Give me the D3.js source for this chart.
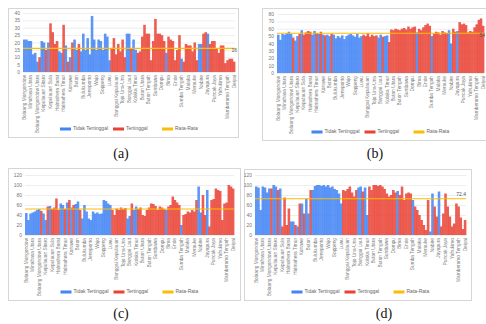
<!DOCTYPE html>
<html>
<head>
<meta charset="utf-8">
<script src="https://d3js.org/d3.v7.min.js"></script>
<style>
  body { margin: 0; background: #fff; }
  svg text { font-family: "Liberation Sans", Arial, sans-serif; }
  svg .caption { font-family: "Liberation Serif", "Times New Roman", serif; }
</style>
</head>
<body>
<svg id="chart" width="486" height="324"></svg>
<script>
// kabupaten, same order in all four panels
const categories = [
  "Bolaang Mongondow", "Minahasa", "Kepulauan Sangihe", "Minahasa Utara", "Kepulauan Talaud",
  "Minahasa Selatan", "Bolaang Mongondow Utara", "Minahasa Tenggara", "Bolaang Mongondow Timur",
  "Kepulauan Sitaro", "Bolaang Mongondow Selatan", "Halmahera Tengah", "Kepulauan Sula",
  "Halmahera Selatan", "Halmahera Utara", "Halmahera Barat", "Pulau Morotai", "Pulau Taliabu",
  "Halmahera Timur", "Muna", "Kolaka", "Konawe", "Konawe Selatan", "Bombana", "Buton",
  "Wakatobi", "Kolaka Utara", "Bulukumba", "Selayar", "Bantaeng", "Jeneponto", "Takalar",
  "Sinjai", "Wajo", "Maros", "Barru", "Soppeng", "Bone", "Pinrang", "Luwu", "Enrekang",
  "Tana Toraja", "Banggai Kepulauan", "Luwu Utara", "Banggai", "Tojo Una-Una", "Poso",
  "Donggala", "Banggai Laut", "Toli-Toli", "Buol", "Kolaka Timur", "Sigi", "Konawe Utara",
  "Buton Utara", "Morowali Utara", "Muna Barat", "Buton Tengah", "Buton Selatan",
  "Lombok Barat", "Sumbawa", "Lombok Tengah", "Lombok Timur", "Dompu", "Sumbawa Barat",
  "Lombok Utara", "Bima", "Sumba Barat", "Sumba Timur", "Ende", "Kupang", "Belu",
  "Sumba Tengah", "Alor", "Lembata", "Malaka", "Flores Timur", "Sikka", "Merauke", "Ngada",
  "Manggarai", "Nabire", "Rote Ndao", "Jayawijaya", "Jayapura", "Paniai", "Mimika",
  "Puncak Jaya", "Boven Digoel", "Mappi", "Yahukimo", "Asmat", "Tolikara",
  "Mamberamo Tengah", "Keerom", "Intan Jaya", "Deiyai"
];

// B = Tidak Tertinggal, R = Tertinggal
const status = ("BBBBBBBRBBRBR" + "RRRBBRBRBRBB" + "RBBBBBBBBBBB" + "BBBRRRRRRRBB" +
  "RBBRRRRRRRRR" + "RRRRBRRRRRRB" + "RRRRRRRBBRRB" + "RRRRRRRRRRR" + "R").split("");

const valuesA = [
  22, 22, 21, 21, 12, 13, 7, 10, 21, 20, 15, 20, 33,
  27, 19, 21, 14, 13, 32, 18, 7, 10, 20, 22, 15,
  19, 14, 26, 15, 23, 12, 38, 22, 15, 22, 21, 15,
  26, 24, 8, 16, 23, 12, 19, 14, 22, 10, 26, 26,
  16, 22, 15, 13, 14, 24, 32, 26, 26, 8, 21, 36,
  26, 26, 25, 21, 13, 24, 22, 21, 8, 15, 25, 9,
  7, 19, 18, 18, 14, 20, 8, 19, 19, 26, 27, 26,
  19, 21, 21, 16, 13, 18, 18, 6, 8, 9, 9,
  7
];
const valuesB = [
  52, 45, 53, 52, 54, 56, 53, 48, 44, 50, 53, 58, 52,
  55, 57, 56, 52, 57, 54, 53, 56, 52, 51, 52, 50,
  53, 52, 47, 50, 48, 51, 46, 50, 52, 53, 51, 49,
  53, 48, 50, 52, 50, 54, 49, 52, 50, 51, 48, 52,
  49, 50, 51, 42, 59, 58, 60, 59, 58, 60, 61, 59,
  63, 60, 62, 63, 55, 60, 58, 62, 65, 67, 64, 50,
  53, 56, 55, 52, 57, 55, 54, 58, 40, 60, 56, 57,
  69, 66, 67, 65, 55, 57, 56, 62, 66, 72, 74,
  64
];
const valuesC = [
  44, 30, 43, 45, 47, 50, 52, 48, 43, 30, 57, 58, 52,
  55, 73, 50, 63, 60, 52, 65, 70, 55, 60, 62, 67,
  50, 33, 60, 47, 33, 30, 47, 43, 45, 42, 43, 70,
  68, 63, 60, 50, 40, 53, 50, 55, 52, 54, 33, 38,
  63, 50, 57, 52, 55, 40, 38, 50, 55, 63, 62, 58,
  50, 57, 55, 52, 50, 57, 60, 77, 70, 65, 60, 20,
  40, 42, 47, 45, 50, 47, 70, 97, 45, 80, 40, 90,
  17, 70, 72, 93, 90, 88, 30, 63, 65, 100, 97,
  93
];
const valuesD = [
  97, 95, 50, 97, 95, 85, 93, 93, 100, 97, 90, 93, 17,
  75, 20, 53, 27, 27, 20, 17, 63, 63, 43, 73, 43,
  90, 90, 98, 100, 100, 98, 100, 97, 100, 95, 97, 92,
  90, 83, 63, 90, 88, 92, 97, 85, 77, 90, 95, 97,
  87, 95, 40, 97, 90, 100, 100, 98, 100, 97, 92, 83,
  77, 80, 90, 85, 88, 80, 97, 70, 83, 85, 83, 70,
  57, 50, 40, 30, 20, 10, 70, 7, 83, 57, 37, 87,
  17, 43, 83, 57, 37, 17, 23, 63, 57, 35, 12,
  30
];

const rateValues = [16, 54, 52, 72.4];
const rateLabels = ["16", "54", "", "72.4"];
const yMaxes = [40, 80, 120, 120];
const ySteps = [5, 10, 20, 20];
const captions = ["(a)", "(b)", "(c)", "(d)"];
const legendLabels = ["Tidak Tertinggal", "Tertinggal", "Rata-Rata"];

const color = {B: "#4285f4", R: "#ea4335", rate: "#fbbc04"};

const panels = [
  {values: valuesA, frame: [8, 8, 238, 137], plot: [23, 13, 235, 72], legendY: 129, cap: [121, 158], labelX: 237, labelDy: 2},
  {values: valuesB, frame: [262, 8, 492, 140], plot: [277, 14, 484, 73], legendY: 132, cap: [375, 158], labelX: 485, labelDy: 2},
  {values: valuesC, frame: [8, 168, 240, 300], plot: [25, 175, 234, 235], legendY: 292, cap: [121, 318], labelX: 236, labelDy: 2},
  {values: valuesD, frame: [244, 169, 471, 300], plot: [255, 175, 466, 235], legendY: 292, cap: [384, 318], labelX: 466, labelDy: -2.5}
];

const svg = d3.select("#chart");

panels.forEach((p, k) => {
  const [fx0, fy0, fx1, fy1] = p.frame;
  const [px0, py0, px1, py1] = p.plot;

  svg.append("rect")
    .attr("x", fx0 + 0.5).attr("y", fy0 + 0.5)
    .attr("width", fx1 - fx0).attr("height", fy1 - fy0)
    .attr("fill", "#fff").attr("stroke", "#d6d6d6").attr("stroke-width", 1);

  const x = d3.scaleBand().domain(categories).range([px0, px1]).padding(0);
  const y = d3.scaleLinear().domain([0, yMaxes[k]]).range([py1, py0]);

  // gridlines + y labels
  const yAxis = svg.append("g")
    .attr("transform", `translate(${px0},0)`)
    .call(d3.axisLeft(y)
      .tickValues(d3.range(0, yMaxes[k] + 1, ySteps[k]))
      .tickSize(-(px1 - px0))
      .tickPadding(3));
  yAxis.select(".domain").remove();
  yAxis.selectAll("line").attr("stroke", "#e2e2e2").attr("stroke-width", 0.6);
  yAxis.selectAll("text").attr("font-size", 5).attr("fill", "#777").attr("font-family", null);

  // bars
  svg.append("g")
    .selectAll("rect")
    .data(p.values)
    .join("rect")
    .attr("x", (d, i) => x(categories[i]))
    .attr("y", d => y(d))
    .attr("width", x.bandwidth() + 0.4)
    .attr("height", d => y(0) - y(d))
    .attr("fill", (d, i) => color[status[i]])
    .attr("fill-opacity", 0.86);

  // category labels, every third one
  const xAxis = svg.append("g")
    .attr("transform", `translate(0,${py1})`)
    .call(d3.axisBottom(x)
      .tickValues(categories.filter((c, i) => i % 3 === 0))
      .tickSize(0));
  xAxis.select(".domain").remove();
  xAxis.selectAll("text")
    .attr("transform", "rotate(-90)")
    .attr("text-anchor", "end")
    .attr("x", -3).attr("y", 0).attr("dy", "0.35em")
    .attr("font-size", 4.8).attr("fill", "#808080").attr("font-family", null);

  // average line
  const ry = y(rateValues[k]);
  svg.append("line")
    .attr("x1", px0).attr("x2", px1)
    .attr("y1", ry).attr("y2", ry)
    .attr("stroke", color.rate).attr("stroke-width", 1.1);
  if (rateLabels[k]) {
    svg.append("text")
      .attr("x", p.labelX).attr("y", ry + p.labelDy)
      .attr("text-anchor", "end")
      .attr("dominant-baseline", p.labelDy > 0 ? "middle" : "auto")
      .attr("font-size", 5).attr("fill", "#555")
      .text(rateLabels[k]);
  }

  // legend
  const cx = (px0 + px1) / 2;
  const offsets = [-69, -16, 33];
  const swatch = [color.B, color.R, color.rate];
  legendLabels.forEach((lab, j) => {
    const lx = cx + offsets[j];
    svg.append("rect")
      .attr("x", lx).attr("y", p.legendY - 1.5)
      .attr("width", 11).attr("height", 3)
      .attr("fill", swatch[j]);
    svg.append("text")
      .attr("x", lx + 13).attr("y", p.legendY)
      .attr("dominant-baseline", "middle")
      .attr("font-size", 5).attr("fill", "#666")
      .text(lab);
  });

  svg.append("text")
    .attr("class", "caption")
    .attr("x", p.cap[0]).attr("y", p.cap[1])
    .attr("text-anchor", "middle")
    .attr("font-size", 14).attr("fill", "#111")
    .text(captions[k]);
});
</script>
</body>
</html>
